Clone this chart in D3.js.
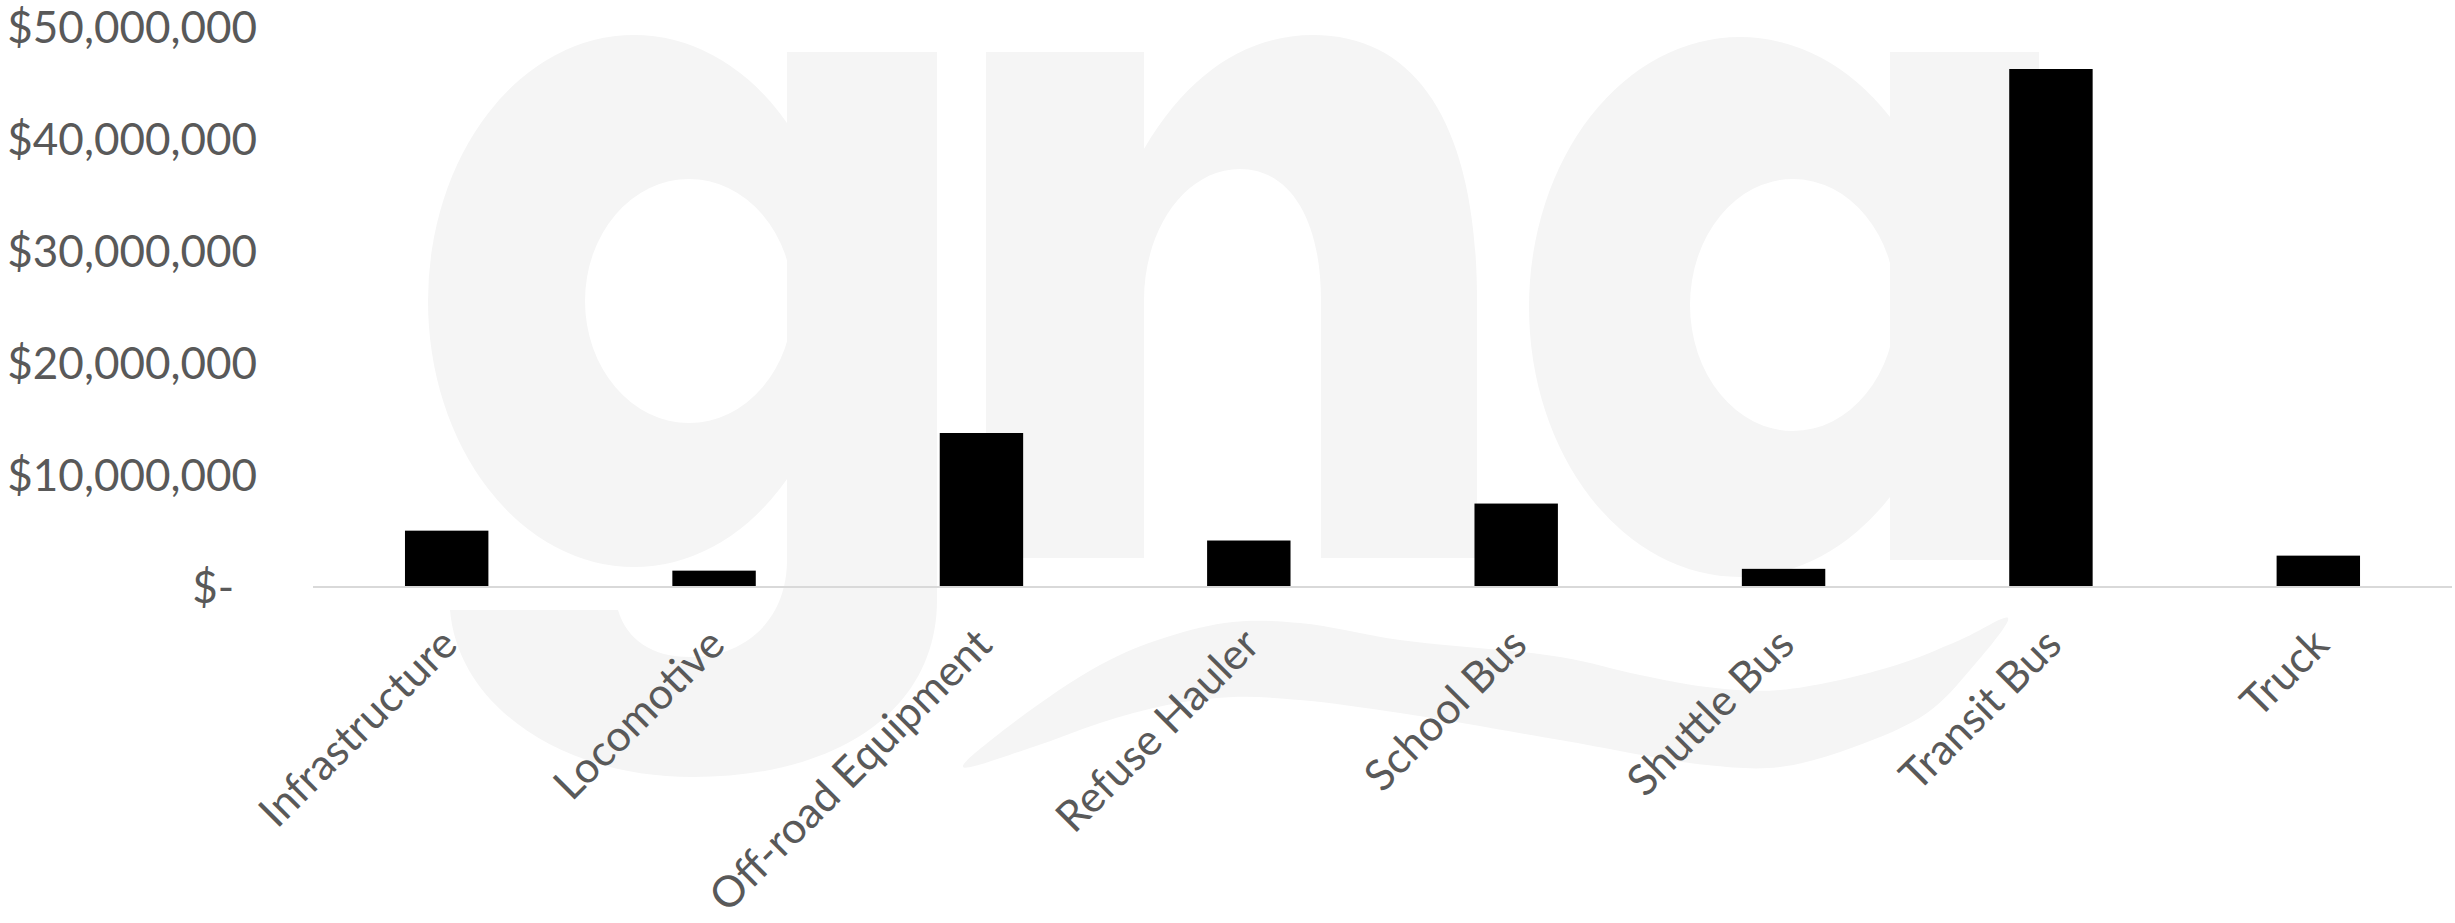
<!DOCTYPE html>
<html>
<head>
<meta charset="utf-8">
<script src="https://cdn.jsdelivr.net/npm/d3@7"></script>
<style>
  body { margin: 0; background: #fff; }
  svg { display: block; }
</style>
</head>
<body>
<div id="chart"></div>
<script>
// data ----------------------------------------------------------------------
const categories = ["Infrastructure", "Locomotive", "Off-road Equipment", "Refuse Hauler",
                    "School Bus", "Shuttle Bus", "Transit Bus", "Truck"];
const funding = [5030000, 1460000, 13750000, 4150000, 7450000, 1620000, 46250000, 2800000];
const yTicks = [0, 10000000, 20000000, 30000000, 40000000, 50000000];

const width = 2455, height = 923;
const margin = {top: 27, right: 3, bottom: 336, left: 313};
const textColor = "#595959";
const font = "Lato, 'Open Sans', sans-serif";

const svg = d3.select("#chart").append("svg")
    .attr("width", width)
    .attr("height", height);

// background logo watermark (light grey "gna" + swoosh)
const logo = svg.append("g").attr("fill", "#f5f5f5");

function ringPath(cx, cy, rx, ry, icx, icy, irx, iry) {
    return `M${cx - rx},${cy} A${rx},${ry} 0 1 1 ${cx + rx},${cy} A${rx},${ry} 0 1 1 ${cx - rx},${cy} Z ` +
           `M${icx - irx},${icy} A${irx},${iry} 0 1 0 ${icx + irx},${icy} A${irx},${iry} 0 1 0 ${icx - irx},${icy} Z`;
}

// g
logo.append("path").attr("fill-rule", "evenodd")
    .attr("d", ringPath(634, 301, 206, 266, 689, 301, 104, 122));
logo.append("rect").attr("x", 787).attr("y", 52).attr("width", 150).attr("height", 550);
logo.append("path")
    .attr("d", "M937,520 L937,600 C937,712 835,777 693,777 C560,777 458,705 450,610 L618,610 C627,640 652,657 690,657 C745,657 787,620 787,560 Z");
// n
logo.append("rect").attr("x", 986).attr("y", 52).attr("width", 158).attr("height", 506);
logo.append("path")
    .attr("d", "M1144,149 C1190,70 1250,35 1313,35 C1420,35 1477,130 1477,300 L1477,558 L1321,558 L1321,300 C1321,220 1290,169 1240,169 C1185,169 1144,230 1144,300 Z");
// a
logo.append("path").attr("fill-rule", "evenodd")
    .attr("d", ringPath(1740, 307, 211, 270, 1793, 305, 103, 126));
logo.append("rect").attr("x", 1890).attr("y", 52).attr("width", 149).attr("height", 508);
// swoosh
const swoosh = [[963,767],[1000,733],[1100,665],[1167,637],[1233,622],[1300,623],[1400,640],[1560,657],
                [1640,675],[1707,687],[1780,690],[1890,667],[1960,640],[2008,618],
                [1970,670],[1927,713],[1854,747],[1780,767],[1707,765],[1560,740],[1400,713],
                [1300,700],[1233,697],[1167,705],[1100,723],[1033,747]];
logo.append("path")
    .attr("d", d3.line().curve(d3.curveCatmullRomClosed.alpha(0.5))(swoosh));

// scales ----------------------------------------------------------------------
const x = d3.scaleBand()
    .domain(categories)
    .range([margin.left, width - margin.right])
    .paddingInner(0.688)
    .paddingOuter(0.344);

const y = d3.scaleLinear()
    .domain([0, 50000000])
    .range([height - margin.bottom, margin.top]);

// bars
svg.append("g")
    .selectAll("rect")
    .data(funding)
    .join("rect")
    .attr("x", (d, i) => x(categories[i]))
    .attr("y", d => y(d))
    .attr("width", x.bandwidth())
    .attr("height", d => y(0) - y(d))
    .attr("fill", "#000");

// baseline
svg.append("line")
    .attr("x1", margin.left)
    .attr("x2", width - margin.right)
    .attr("y1", y(0))
    .attr("y2", y(0))
    .attr("stroke", "#d9d9d9")
    .attr("stroke-width", 2);

// y axis
const yAxis = svg.append("g")
    .attr("transform", `translate(${margin.left - 56},0)`)
    .call(d3.axisLeft(y)
        .tickValues(yTicks)
        .tickSize(0)
        .tickPadding(0)
        .tickFormat(d => d === 0 ? "$-" : "$" + d3.format(",")(d)));
yAxis.select(".domain").remove();
yAxis.selectAll("text")
    .attr("fill", textColor)
    .style("font-family", font)
    .style("font-size", "44px")
    .attr("dy", "0.35em")
    .attr("dx", d => d === 0 ? -23 : 0);

// x axis
const xAxis = svg.append("g")
    .attr("transform", `translate(0,${y(0)})`)
    .call(d3.axisBottom(x).tickSize(0));
xAxis.select(".domain").remove();
xAxis.selectAll("text")
    .attr("fill", textColor)
    .style("font-family", font)
    .style("font-size", "43px")
    .attr("text-anchor", "end")
    .attr("x", 0)
    .attr("y", 0)
    .attr("dy", null)
    .attr("transform", "translate(13,60) rotate(-45)");
</script>
</body>
</html>
